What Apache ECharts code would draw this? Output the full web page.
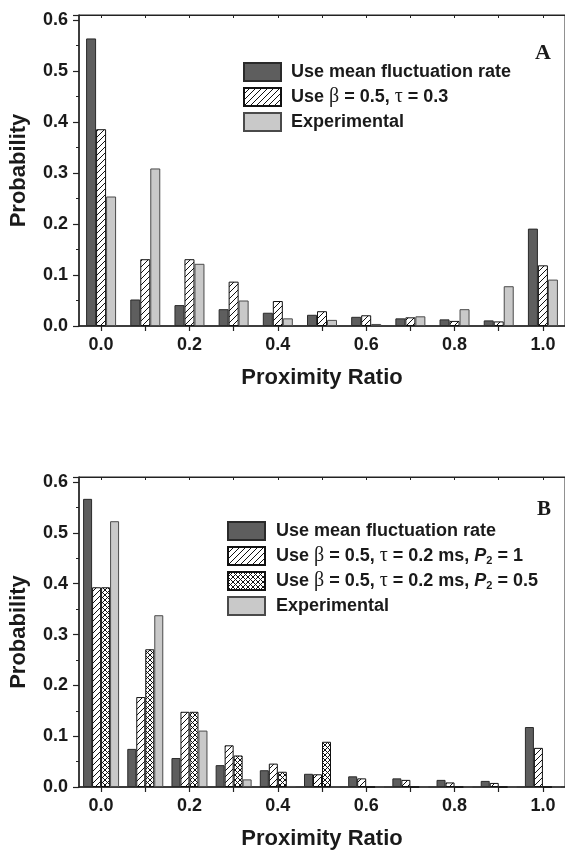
<!DOCTYPE html>
<html><head><meta charset="utf-8">
<script src="https://cdn.jsdelivr.net/npm/echarts@6/dist/echarts.min.js"></script>
<style>html,body{margin:0;padding:0;background:#fff;}#c{width:565px;height:851px;}</style>
</head><body><div id="c"></div>
<script>
// ---------- data ----------
const categories = ['0.0','0.1','0.2','0.3','0.4','0.5','0.6','0.7','0.8','0.9','1.0'];
const yTicks = ['0.0','0.1','0.2','0.3','0.4','0.5','0.6'];

const namesA = ['Use mean fluctuation rate', 'Use β = 0.5, τ = 0.3', 'Experimental'];
const meanA = [0.564, 0.052, 0.041, 0.033, 0.026, 0.022, 0.018, 0.015, 0.013, 0.011, 0.191];
const betaA = [0.386, 0.131, 0.131, 0.087, 0.049, 0.029, 0.021, 0.017, 0.010, 0.009, 0.119];
const expA  = [0.254, 0.309, 0.122, 0.050, 0.015, 0.012, 0.004, 0.019, 0.033, 0.078, 0.091];

const namesB = ['Use mean fluctuation rate', 'Use β = 0.5, τ = 0.2 ms, P₂ = 1', 'Use β = 0.5, τ = 0.2 ms, P₂ = 0.5', 'Experimental'];
const meanB   = [0.567, 0.075, 0.057, 0.043, 0.033, 0.026, 0.021, 0.017, 0.014, 0.012, 0.118];
const beta1B  = [0.393, 0.177, 0.148, 0.082, 0.046, 0.025, 0.017, 0.014, 0.009, 0.008, 0.077];
const beta05B = [0.393, 0.271, 0.148, 0.062, 0.030, 0.089, 0, 0, 0, 0, 0];
const expB    = [0.523, 0.338, 0.111, 0.015, 0.002, 0, 0, 0, 0, 0, 0];

const panelLabels = ['A', 'B'];
const xName = 'Proximity Ratio';
const yName = 'Probability';

// ---------- styles ----------
function hatch(size, cross) {
  const c = document.createElement('canvas');
  c.width = c.height = size;
  const g = c.getContext('2d');
  g.fillStyle = '#fff'; g.fillRect(0, 0, size, size);
  g.strokeStyle = '#111'; g.lineWidth = 1;
  g.beginPath();
  g.moveTo(-1, size + 1); g.lineTo(size + 1, -1);
  g.moveTo(-1, 1); g.lineTo(1, -1);
  g.moveTo(size - 1, size + 1); g.lineTo(size + 1, size - 1);
  if (cross) {
    g.moveTo(-1, -1); g.lineTo(size + 1, size + 1);
    g.moveTo(size - 1, -1); g.lineTo(size + 1, 1);
    g.moveTo(-1, size - 1); g.lineTo(1, size + 1);
  }
  g.stroke();
  return c;
}
const FONT = 'Liberation Sans, Arial, Helvetica, sans-serif';
const SERIF = 'Liberation Serif, DejaVu Serif, serif';
const darkStyle  = {color: '#5e5e5e', borderColor: '#2a2a2a', borderWidth: 1};
const lightStyle = {color: '#c9c9c9', borderColor: '#4a4a4a', borderWidth: 1};
const hatchStyle = {color: {image: hatch(6, false), repeat: 'repeat'}, borderColor: '#111', borderWidth: 1};
const crossStyle = {color: {image: hatch(5, true), repeat: 'repeat'}, borderColor: '#111', borderWidth: 1};

const rich = {
  t: {fontFamily: FONT, fontWeight: 'bold', fontSize: 18, color: '#1a1a1a', lineHeight: 20},
  g: {fontFamily: SERIF, fontWeight: 'normal', fontSize: 20, color: '#1a1a1a', lineHeight: 20},
  i: {fontFamily: FONT, fontWeight: 'bold', fontStyle: 'italic', fontSize: 18, color: '#1a1a1a', lineHeight: 20},
  s: {fontFamily: FONT, fontWeight: 'bold', fontSize: 11, color: '#1a1a1a', lineHeight: 20, verticalAlign: 'bottom', padding: [8, 0, 0, 0]}
};
function richName(name) {
  return name.split(/(β|τ|P₂)/).filter(s => s.length).map(s => {
    if (s === 'β' || s === 'τ') return '{g|' + s + '}';
    if (s === 'P₂') return '{i|P}{s|2}';
    return '{t|' + s + '}';
  }).join('');
}

function grid(top) {
  return {left: 79, top: top, width: 490.6, height: 311, show: true, borderColor: '#222', borderWidth: 1, backgroundColor: 'transparent'};
}
function xBottom(gi) {
  return {
    type: 'category', gridIndex: gi, data: categories, position: 'bottom',
    name: xName, nameLocation: 'middle', nameGap: 41,
    nameTextStyle: {fontFamily: FONT, fontWeight: 'bold', fontSize: 22, color: '#1a1a1a'},
    axisLine: {show: true, lineStyle: {color: '#222', width: 1.5}},
    axisTick: {show: true, alignWithLabel: true, interval: 0, length: 5, lineStyle: {color: '#222', width: 1.2}},
    axisLabel: {interval: 1, margin: 10, fontFamily: FONT, fontWeight: 'bold', fontSize: 18, color: '#1a1a1a'},
    splitLine: {show: false}
  };
}
function xTop(gi) {
  return {
    type: 'category', gridIndex: gi, data: categories, position: 'top',
    axisLine: {show: true, lineStyle: {color: '#222', width: 1.2}},
    axisTick: {show: true, inside: true, alignWithLabel: true, interval: 0, length: 3, lineStyle: {color: '#222'}},
    axisLabel: {show: false}, splitLine: {show: false}
  };
}
function yAxis(gi) {
  return {
    type: 'value', gridIndex: gi, min: 0, max: 0.61, interval: 0.1,
    name: yName, nameLocation: 'middle', nameGap: 49,
    nameTextStyle: {fontFamily: FONT, fontWeight: 'bold', fontSize: 22, color: '#1a1a1a'},
    axisLine: {show: true, lineStyle: {color: '#222', width: 1.5}},
    axisTick: {show: true, length: 6, lineStyle: {color: '#222', width: 1.2}},
    minorTick: {show: true, splitNumber: 2, length: 3, lineStyle: {color: '#222', width: 1}},
    axisLabel: {margin: 11, showMaxLabel: false, fontFamily: FONT, fontWeight: 'bold', fontSize: 18, color: '#1a1a1a',
      formatter: v => yTicks[Math.round(v * 10)] || ''},
    splitLine: {show: false}
  };
}
function bar(name, data, style, gi, w) {
  return {type: 'bar', name: name, data: data, xAxisIndex: gi * 2, yAxisIndex: gi,
    barWidth: w, barGap: '0%', itemStyle: style, emphasis: {disabled: true}, animation: false};
}

const option = {
  animation: false,
  backgroundColor: '#fff',
  title: [
    {text: panelLabels[0], left: 530, top: 37, padding: 5, textStyle: {fontFamily: SERIF, fontWeight: 'bold', fontSize: 22, color: '#1a1a1a'}},
    {text: panelLabels[1], left: 532, top: 494, padding: 5, textStyle: {fontFamily: SERIF, fontWeight: 'bold', fontSize: 21, color: '#1a1a1a'}}
  ],
  grid: [grid(15), grid(477)],
  xAxis: [xBottom(0), xTop(0), xBottom(1), xTop(1)],
  yAxis: [yAxis(0), yAxis(1)],
  legend: [
    {data: namesA, orient: 'vertical', left: 243, top: 62, padding: 0, itemWidth: 37, itemHeight: 18, itemGap: 5,
      icon: 'rect', selectedMode: false, formatter: richName,
      textStyle: {padding: [0, 0, 0, 5], rich: rich}},
    {data: namesB, orient: 'vertical', left: 227, top: 521, padding: 0, itemWidth: 37, itemHeight: 18, itemGap: 5,
      icon: 'rect', selectedMode: false, formatter: richName,
      textStyle: {padding: [0, 0, 0, 6], rich: rich}}
  ],
  series: [
    bar(namesA[0], meanA, darkStyle, 0, 10),
    bar(namesA[1], betaA, hatchStyle, 0, 10),
    bar(namesA[2], expA, lightStyle, 0, 10),
    bar(namesB[0], meanB, darkStyle, 1, 9),
    bar(namesB[1], beta1B, hatchStyle, 1, 9),
    bar(namesB[2], beta05B, crossStyle, 1, 9),
    bar(namesB[3], expB, lightStyle, 1, 9)
  ]
};
const chart = echarts.init(document.getElementById('c'), null, {renderer: 'canvas'});
chart.setOption(option);
</script>
</body></html>
